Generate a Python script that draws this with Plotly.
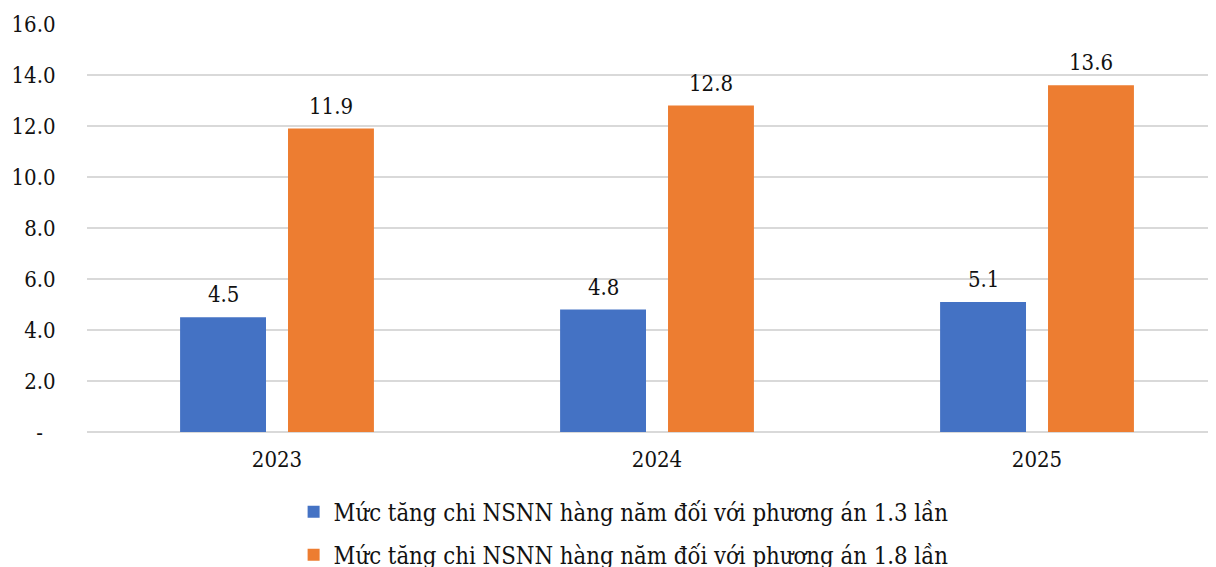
import plotly.graph_objects as go

categories = ["2023", "2024", "2025"]
series_names = [
    "Mức tăng chi NSNN hàng năm đối với phương án 1.3 lần",
    "Mức tăng chi NSNN hàng năm đối với phương án 1.8 lần",
]
values_13 = [4.5, 4.8, 5.1]
values_18 = [11.9, 12.8, 13.6]
colors = ["#4472C4", "#ED7D31"]
tick_vals = [0, 2, 4, 6, 8, 10, 12, 14, 16]
tick_text = ["-\u00a0\u00a0", "2.0", "4.0", "6.0", "8.0", "10.0", "12.0", "14.0", "16.0"]

FONT = "DejaVu Serif Condensed"
FS = 22
LEG_FS = 23.7
TXT = "#111111"

fig = go.Figure()
all_series = [values_13, values_18]
for i, (name, vals) in enumerate(zip(series_names, all_series)):
    fig.add_trace(go.Bar(
        x=categories, y=vals, name=name,
        marker=dict(color=colors[i], line=dict(width=0)),
        legendgroup=f"g{i}",
    ))

offsets = [-54, 54]
annotations = []
for i, vals in enumerate(all_series):
    for j, v in enumerate(vals):
        annotations.append(dict(
            x=j, y=v, xref="x", yref="y", text=f"{v:.1f}", showarrow=False,
            xshift=offsets[i], yanchor="bottom", yshift=8,
            font=dict(family=FONT, size=FS, color=TXT),
        ))

fig.update_layout(
    width=1208, height=559,
    margin=dict(l=79, r=0, t=16, b=135, autoexpand=False),
    paper_bgcolor="white", plot_bgcolor="white",
    bargap=0.432, bargroupgap=0.204,
    font=dict(family=FONT, size=FS, color=TXT),
    showlegend=True,
    legend=dict(
        orientation="v", x=0.183, xanchor="left", y=-0.142, yanchor="top",
        font=dict(family=FONT, size=LEG_FS, color=TXT),
        tracegroupgap=9, bgcolor="rgba(0,0,0,0)",
    ),
    annotations=annotations,
)
fig.update_xaxes(
    type="category", range=[-0.5, 2.471],
    showgrid=False, showline=False, zeroline=False,
    ticks="outside", ticklen=8, tickcolor="rgba(0,0,0,0)",
    tickfont=dict(family=FONT, size=FS, color=TXT),
)
fig.update_yaxes(
    range=[0, 16], tickvals=tick_vals, ticktext=tick_text,
    showgrid=True, gridcolor="#D9D9D9", gridwidth=2,
    zeroline=True, zerolinecolor="#D9D9D9", zerolinewidth=2,
    showline=False,
    ticks="outside", ticklen=26, tickcolor="rgba(0,0,0,0)",
    tickfont=dict(family=FONT, size=FS, color=TXT),
)

fig.write_html("out.html")
